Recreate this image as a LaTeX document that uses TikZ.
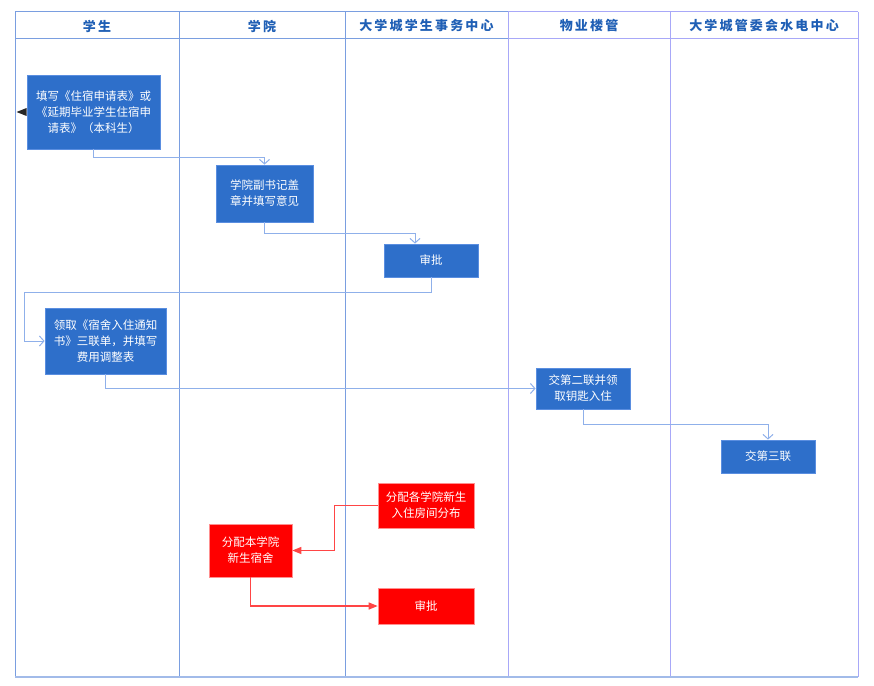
\documentclass[tikz,border=0pt]{standalone}
\usepackage{fontspec}
\setmainfont{Noto Sans CJK SC}
\usetikzlibrary{arrows.meta}
\definecolor{hdr}{HTML}{1F5FB5}
\definecolor{laneA}{HTML}{7A9EE0}
\definecolor{laneB}{HTML}{A8A8F8}
\definecolor{boxblue}{HTML}{2E6FCA}
\definecolor{boxedge}{HTML}{5A8EE0}
\definecolor{conn}{HTML}{8FB0EA}
\definecolor{redbox}{HTML}{FF0000}
\definecolor{redline}{HTML}{FF4545}
\tikzset{
  hdrtext/.style={font=\bfseries\fontsize{13}{15}\selectfont, text=hdr},
  bbox/.style={draw=boxedge, line width=0.8pt, fill=boxblue, text=white, align=center,
    font=\fontsize{11.5}{16}\selectfont, inner sep=0pt},
  rbox/.style={draw=redline!60, line width=0.6pt, fill=redbox, text=white, align=center,
    font=\fontsize{11.5}{16}\selectfont, inner sep=0pt},
  bconn/.style={draw=conn, line width=1pt, -{Straight Barb[length=4.5pt,width=10pt]}},
  rconn/.style={draw=redline, line width=1.2pt, -{Triangle[length=9pt,width=7pt]}},
}
\begin{document}
\begin{tikzpicture}[x=1pt,y=-1pt]
\useasboundingbox (0,0) rectangle (874,685);
% lanes
\draw[laneA, line width=1pt] (15,12) -- (508,12);
\draw[laneB, line width=1pt] (508,12) -- (858,12);
\draw[laneA, line width=1pt] (15,39) -- (508,39);
\draw[laneB, line width=1pt] (508,39) -- (858,39);
\draw[laneA, line width=1pt] (15,12) -- (15,677);
\draw[laneA, line width=1pt] (179,12) -- (179,677);
\draw[laneA, line width=1pt] (345,12) -- (345,677);
\draw[laneB, line width=1pt] (508,12) -- (508,677);
\draw[laneB, line width=1pt] (670,12) -- (670,677);
\draw[laneB, line width=1pt] (858,12) -- (858,677);
\draw[laneA!70, line width=1.2pt] (15,677) -- (858,677);
% headers
\node[hdrtext] (h1) at (97,26) {学\,生};
\node[hdrtext] (h2) at (262,26) {学\,院};
\node[hdrtext] (h3) at (426.5,26) {大\,学\,城\,学\,生\,事\,务\,中\,心};
\node[hdrtext] (h4) at (589,26) {物\,业\,楼\,管};
\node[hdrtext] (h5) at (764,26) {大\,学\,城\,管\,委\,会\,水\,电\,中\,心};
% boxes
\node[bbox, minimum width=133pt, minimum height=74pt] (b1) at (93.5,112) {填写《住宿申请表》或\\《延期毕业学生住宿申\\请表》（本科生）};
\node[bbox, minimum width=97pt, minimum height=57pt] (b2) at (264.5,193.5) {学院副书记盖\\章并填写意见};
\node[bbox, minimum width=94pt, minimum height=33pt] (b3) at (431,260.5) {审批};
\node[bbox, minimum width=121pt, minimum height=66pt] (b4) at (105.5,341) {领取《宿舍入住通知\\书》三联单，并填写\\费用调整表};
\node[bbox, minimum width=94pt, minimum height=41pt] (b5) at (583,388.5) {交第二联并领\\取钥匙入住};
\node[bbox, minimum width=94pt, minimum height=33pt] (b6) at (768,456.5) {交第三联};
\node[rbox, minimum width=96pt, minimum height=45pt] (r1) at (426,505.5) {分配各学院新生\\入住房间分布};
\node[rbox, minimum width=83pt, minimum height=53pt] (r2) at (250.5,550.5) {分配本学院\\新生宿舍};
\node[rbox, minimum width=96pt, minimum height=36pt] (r3) at (426,606) {审批};
% small black triangle at left of b1, pointing left
\fill[black!85] (b1.west) -- ++(0,-4) -- ++(-10,4) -- ++(10,4) -- cycle;
% connectors
\draw[bconn] (b1.south) -- ++(0,8) -| (b2.north);
\draw[bconn] (b2.south) -- ++(0,11) -| ([xshift=-16pt]b3.north);
\draw[bconn] (b3.south) -- ++(0,15) -| (24,341) -- (b4.west);
\draw[bconn] (b4.south) |- (b5.west);
\draw[bconn] (b5.south) -- ++(0,15) -| (b6.north);
\draw[rconn] (r1.west) -- ++(-43,0) |- (r2.east);
\draw[rconn] (r2.south) |- (r3.west);
\end{tikzpicture}
\end{document}
